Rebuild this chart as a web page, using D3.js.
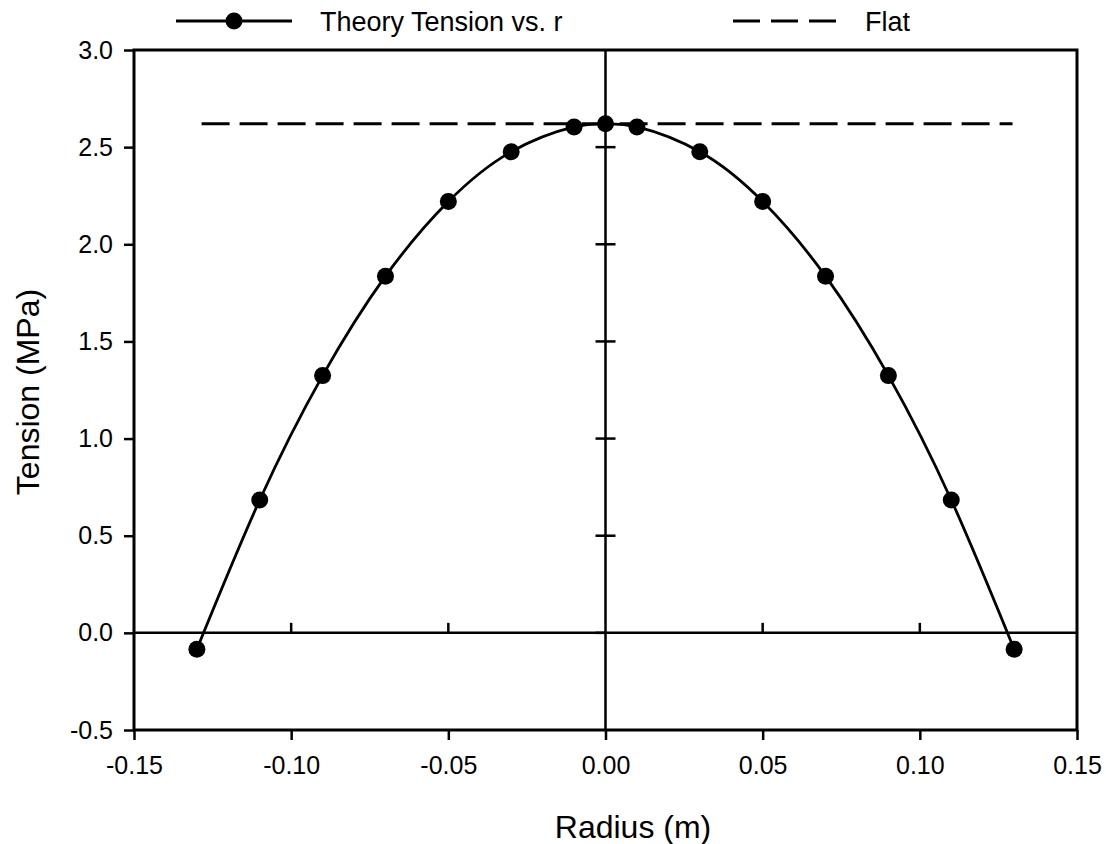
<!DOCTYPE html>
<html>
<head>
<meta charset="utf-8">
<script src="https://cdn.jsdelivr.net/npm/d3@7"></script>
<style>
  body { margin: 0; background: #fff; }
  text { font-family: "Liberation Sans", Arial, sans-serif; fill: #000; }
</style>
</head>
<body>
<svg width="1106" height="844"></svg>
<script>
// data
var radius = [-0.13, -0.11, -0.09, -0.07, -0.05, -0.03, -0.01, 0.00, 0.01, 0.03, 0.05, 0.07, 0.09, 0.11, 0.13];
var tension = [-0.084, 0.684, 1.324, 1.836, 2.22, 2.476, 2.604, 2.62, 2.604, 2.476, 2.22, 1.836, 1.324, 0.684, -0.084];
var flatX = [-0.1285, 0.1295];
var flatY = [2.62, 2.62];
var xTicks = [-0.15, -0.10, -0.05, 0.00, 0.05, 0.10, 0.15];
var yTicks = [-0.5, 0.0, 0.5, 1.0, 1.5, 2.0, 2.5, 3.0];

function init() {
    var svg = d3.select("svg");

    var left = 134, right = 1077, top = 50, bottom = 730;

    var x = d3.scaleLinear().domain([-0.15, 0.15]).range([left, right]);
    var y = d3.scaleLinear().domain([-0.5, 3.0]).range([bottom, top]);

    // left and bottom axes, ticks outward
    var yAxis = d3.axisLeft(y).tickValues(yTicks).tickSize(10).tickPadding(11);
    var xAxis = d3.axisBottom(x).tickValues(xTicks).tickSize(10).tickPadding(16);

    var gy = svg.append("g").attr("transform", "translate(" + left + ",0)").call(yAxis);
    var gx = svg.append("g").attr("transform", "translate(0," + bottom + ")").call(xAxis);

    [gx, gy].forEach(function(g) {
        g.select(".domain").remove();
        g.selectAll(".tick line").attr("stroke", "#000").attr("stroke-width", 2.5);
        g.selectAll(".tick text").style("font-size", "25px")
            .style("font-family", "'Liberation Sans', Arial, sans-serif")
            .attr("fill", "#000");
    });
    gx.selectAll(".tick text").text(function(d) {
        return d3.format(".2f")(d).replace("−", "-");
    });
    gy.selectAll(".tick text").text(function(d) {
        return d3.format(".1f")(d).replace("−", "-");
    });

    // frame
    svg.append("rect")
        .attr("x", left).attr("y", top)
        .attr("width", right - left).attr("height", bottom - top)
        .attr("fill", "none").attr("stroke", "#000").attr("stroke-width", 3);

    // zero lines
    svg.append("line")
        .attr("x1", left).attr("x2", right)
        .attr("y1", y(0)).attr("y2", y(0))
        .attr("stroke", "#000").attr("stroke-width", 2.5);
    svg.append("line")
        .attr("x1", x(0)).attr("x2", x(0))
        .attr("y1", top).attr("y2", bottom)
        .attr("stroke", "#000").attr("stroke-width", 2.5);

    // ticks on the horizontal zero line (pointing up)
    svg.selectAll("line.zx")
        .data(xTicks.filter(function(d) { return d !== 0 && Math.abs(d) < 0.15; }))
        .enter().append("line")
        .attr("class", "zx")
        .attr("x1", function(d) { return x(d); })
        .attr("x2", function(d) { return x(d); })
        .attr("y1", y(0)).attr("y2", y(0) - 10)
        .attr("stroke", "#000").attr("stroke-width", 2.5);

    // ticks on the vertical zero line (crossing)
    svg.selectAll("line.zy")
        .data(yTicks.filter(function(d) { return d > -0.5 && d < 3.0; }))
        .enter().append("line")
        .attr("class", "zy")
        .attr("x1", x(0) - 10).attr("x2", function(d) { return d === 0 ? x(0) : x(0) + 10; })
        .attr("y1", function(d) { return y(d); })
        .attr("y2", function(d) { return y(d); })
        .attr("stroke", "#000").attr("stroke-width", 2.5);

    // flat reference line
    var flat = d3.zip(flatX, flatY);
    svg.append("path")
        .datum(flat)
        .attr("fill", "none").attr("stroke", "#000").attr("stroke-width", 3)
        .attr("stroke-dasharray", "28,10")
        .attr("d", d3.line().x(function(d) { return x(d[0]); }).y(function(d) { return y(d[1]); }));

    // theory curve
    var pts = d3.zip(radius, tension);
    svg.append("path")
        .datum(pts)
        .attr("fill", "none").attr("stroke", "#000").attr("stroke-width", 2.8)
        .attr("d", d3.line().curve(d3.curveNatural)
            .x(function(d) { return x(d[0]); }).y(function(d) { return y(d[1]); }));

    svg.selectAll("circle.pt")
        .data(pts)
        .enter().append("circle")
        .attr("class", "pt")
        .attr("cx", function(d) { return x(d[0]); })
        .attr("cy", function(d) { return y(d[1]); })
        .attr("r", 8.5)
        .attr("fill", "#000");

    // axis titles
    svg.append("text")
        .attr("x", 633).attr("y", 838)
        .attr("text-anchor", "middle")
        .style("font-size", "32px")
        .text("Radius (m)");
    svg.append("text")
        .attr("transform", "translate(39,392) rotate(-90)")
        .attr("text-anchor", "middle")
        .style("font-size", "32px")
        .text("Tension (MPa)");

    // legend
    var leg = svg.append("g");
    leg.append("line").attr("x1", 176).attr("x2", 292).attr("y1", 21).attr("y2", 21)
        .attr("stroke", "#000").attr("stroke-width", 3);
    leg.append("circle").attr("cx", 234).attr("cy", 21).attr("r", 8.5).attr("fill", "#000");
    leg.append("text").attr("x", 320).attr("y", 31).style("font-size", "27px")
        .text("Theory Tension vs. r");
    leg.append("line").attr("x1", 733).attr("x2", 838).attr("y1", 21).attr("y2", 21)
        .attr("stroke", "#000").attr("stroke-width", 3)
        .attr("stroke-dasharray", "27,11");
    leg.append("text").attr("x", 865).attr("y", 31).style("font-size", "27px")
        .text("Flat");
}
window.onload = init;
</script>
</body>
</html>
